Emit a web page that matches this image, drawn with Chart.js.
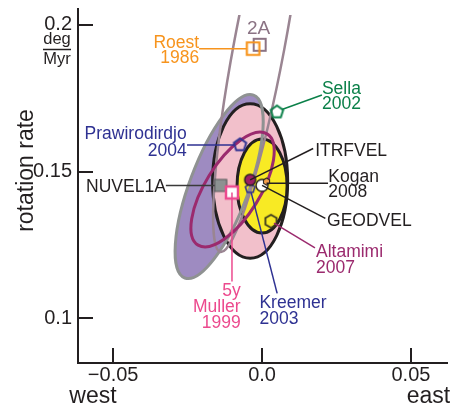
<!DOCTYPE html>
<html>
<head>
<meta charset="utf-8">
<script src="https://cdn.jsdelivr.net/npm/chart.js@4.4.1/dist/chart.umd.min.js"></script>
<style>
  html, body { margin: 0; padding: 0; background: #fff; }
  canvas { display: block; }
</style>
</head>
<body>
<canvas id="chart" width="457" height="413"></canvas>
<script>
const FONT = '"Liberation Sans", Arial, Helvetica, sans-serif';
const INK = '#231f20';

// Pole estimates: east-west offset and rotation rate (deg/Myr)
const models   = ['2A', 'Roest 1986', 'Sella 2002', 'Prawirodirdjo 2004', 'NUVEL1A',
                  'Muller 1999', 'Kreemer 2003', 'ITRFVEL', 'GEODVEL', 'Kogan 2008', 'Altamimi 2007'];
const eastWest = [-0.0008, -0.0030, 0.0050, -0.0074, -0.0139, -0.0101, -0.0040, -0.0040, 0.0000, 0.0015, 0.0030];
const rotation = [0.1932, 0.1919, 0.1703, 0.1591, 0.1453, 0.1429, 0.1443, 0.1472, 0.1453, 0.1466, 0.1331];

// Axis ticks
const xTicks = [-0.05, 0, 0.05];
const xTickLabels = ['\u22120.05', '0.0', '0.05'];
const yTicks = [0.1, 0.15, 0.2];
const yTickLabels = ['0.1', '0.15', '0.2'];

// Confidence ellipses: centre, semi-axes (deg/Myr) and tilt of the major axis (deg)
const ellipseKeys  = ['wide', 'outer', 'inner', 'twoA', 'altamimi'];
const ellipseX     = [-0.0144, -0.0040, 0.0000, -0.0009, -0.0099];
const ellipseY     = [0.1449, 0.1468, 0.1451, 0.1932, 0.1439];
const ellipseMajor = [0.0332, 0.0263, 0.0160, 0.0718, 0.0222];
const ellipseMinor = [0.0099, 0.0126, 0.0084, 0.0085, 0.0092];
const ellipseTilt  = [69.7, 90, 90, 79.5, 58.6];

const ellipseStyle = {
  wide:     { fill: '#9e8bc1' },
  outer:    { fill: '#f2c0cb', stroke: INK, width: 3 },
  inner:    { fill: '#f8ea24', stroke: INK, width: 3 },
};
// outlines laid over the filled ellipses
const outlineStyle = {
  wide:     { stroke: '#8f9292', width: 3 },
  twoA:     { stroke: '#9a8592', width: 2.5 },
  altamimi: { stroke: '#9b2a6e', width: 3 },
};

// Marker glyphs
function glyph(shape, size, stroke, fill, lw) {
  const pad = Math.ceil(lw) + 1;
  const dim = Math.round(size + 2 * pad);
  const c = document.createElement('canvas');
  c.width = c.height = dim;
  const g = c.getContext('2d');
  const m = dim / 2, r = size / 2;
  g.beginPath();
  if (shape === 'square') {
    g.rect(m - r, m - r, size, size);
  } else if (shape === 'circle') {
    g.arc(m, m, r, 0, Math.PI * 2);
  } else {
    const n = shape === 'pentagon' ? 5 : 6;
    for (let k = 0; k < n; k++) {
      const a = -Math.PI / 2 + k * 2 * Math.PI / n;
      const px = m + r * Math.cos(a), py = m + r * Math.sin(a);
      if (k) g.lineTo(px, py); else g.moveTo(px, py);
    }
    g.closePath();
  }
  if (fill) { g.fillStyle = fill; g.fill(); }
  g.lineWidth = lw;
  g.strokeStyle = stroke;
  g.stroke();
  return c;
}

const markers = {
  '2A':                 glyph('square', 12, '#8b7384', null, 2),
  'Roest 1986':         glyph('square', 12.5, '#f7941d', null, 2.2),
  'Sella 2002':         glyph('pentagon', 13, '#0b8049', null, 2),
  'Prawirodirdjo 2004': glyph('pentagon', 13, '#2e3192', null, 2),
  'NUVEL1A':            glyph('square', 12, '#58595b', '#8c9191', 1.2),
  'Muller 1999':        glyph('square', 12, '#ec4a8e', '#ffffff', 2.5),
  'Kreemer 2003':       glyph('pentagon', 10, '#2e3192', null, 1.6),
  'ITRFVEL':            glyph('circle', 11, INK, '#9b1f63', 1.4),
  'GEODVEL':            glyph('circle', 12, INK, '#ffffff', 1.4),
  'Kogan 2008':         glyph('hexagon', 7, INK, '#f6a04d', 1.1),
  'Altamimi 2007':      glyph('hexagon', 13, '#3b3a1e', null, 1.8),
};

// Labels and leader lines, offsets in px from each marker
const labels = {
  '2A':                 { lines: ['2A'], color: '#8b7384', align: 'center', dx: -1, dy: -10.5, size: 19 },
  'Roest 1986':         { lines: ['Roest', '1986'], color: '#f7941d', align: 'right', dx: -54, dy: -1, gap: 15, lead: [-6.5, 0, -54, 0] },
  'Sella 2002':         { lines: ['Sella', '2002'], color: '#0b8049', align: 'left', dx: 45, dy: -18.3, gap: 15.5, lead: [5, -2.5, 45, -17] },
  'Prawirodirdjo 2004': { lines: ['Prawirodirdjo', '2004'], color: '#2e3192', align: 'right', dx: -53.3, dy: -6.3, gap: 17.3, lead: [-6, 0, -53, 0] },
  'NUVEL1A':            { lines: ['NUVEL1A'], color: INK, leadColor: '#3a3a3a', align: 'right', dx: -54.8, dy: 6.7, lead: [-6, 0, -54.8, 0] },
  'Muller 1999':        { lines: ['5y', 'Muller', '1999'], color: '#ec4a8e', align: 'right', dx: 8.7, dy: 104, gap: 16, lead: [0, 0, 0, 89] },
  'Kreemer 2003':       { lines: ['Kreemer', '2003'], color: '#2e3192', align: 'left', dx: 9.3, dy: 119.7, gap: 16, lead: [1, 4, 27, 105] },
  'ITRFVEL':            { lines: ['ITRFVEL'], color: INK, align: 'left', dx: 65, dy: -24.3, lead: [0, 0, 63, -31.3] },
  'GEODVEL':            { lines: ['GEODVEL'], color: INK, align: 'left', dx: 65, dy: 41, lead: [0, 0, 63.3, 33] },
  'Kogan 2008':         { lines: ['Kogan', '2008'], color: INK, align: 'left', dx: 61.8, dy: 0.5, gap: 15, lead: [0, 1.7, 61.5, 1.7] },
  'Altamimi 2007':      { lines: ['Altamimi', '2007'], color: '#9b2a6e', align: 'left', dx: 45, dy: 36, gap: 15.7, lead: [3, 2, 44, 26.7] },
};

function ellipsePath(ctx, xs, ys, i) {
  const kx = Math.abs(xs.getPixelForValue(1) - xs.getPixelForValue(0));
  const ky = Math.abs(ys.getPixelForValue(1) - ys.getPixelForValue(0));
  ctx.save();
  ctx.translate(xs.getPixelForValue(ellipseX[i]), ys.getPixelForValue(ellipseY[i]));
  ctx.scale(kx, -ky);
  ctx.rotate(ellipseTilt[i] * Math.PI / 180);
  ctx.beginPath();
  ctx.ellipse(0, 0, ellipseMajor[i], ellipseMinor[i], 0, 0, Math.PI * 2);
  ctx.restore();
}

const ellipsePlugin = {
  id: 'ellipses',
  beforeDatasetsDraw(chart) {
    const { ctx, chartArea: a, scales: { x, y } } = chart;
    ctx.save();
    ctx.beginPath();
    ctx.rect(a.left, a.top + 6, a.right - a.left, a.bottom - a.top - 6);
    ctx.clip();
    ellipseKeys.forEach((key, i) => {
      const st = ellipseStyle[key];
      if (!st) return;
      ellipsePath(ctx, x, y, i);
      ctx.fillStyle = st.fill;
      ctx.fill();
      if (st.stroke) { ctx.lineWidth = st.width; ctx.strokeStyle = st.stroke; ctx.stroke(); }
    });
    ellipseKeys.forEach((key, i) => {
      const st = outlineStyle[key];
      if (!st) return;
      ellipsePath(ctx, x, y, i);
      ctx.lineWidth = st.width;
      ctx.strokeStyle = st.stroke;
      ctx.stroke();
    });
    ctx.restore();
  }
};

const annotatePlugin = {
  id: 'annotate',
  afterDatasetsDraw(chart) {
    const { ctx, scales: { x, y } } = chart;
    ctx.save();
    models.forEach((m, i) => {
      const L = labels[m];
      const px = x.getPixelForValue(eastWest[i]);
      const py = y.getPixelForValue(rotation[i]);
      if (L.lead) {
        ctx.beginPath();
        ctx.moveTo(px + L.lead[0], py + L.lead[1]);
        ctx.lineTo(px + L.lead[2], py + L.lead[3]);
        ctx.lineWidth = 1.5;
        ctx.strokeStyle = L.leadColor || L.color;
        ctx.stroke();
      }
      ctx.font = (L.size || 17.5) + 'px ' + FONT;
      ctx.fillStyle = L.color;
      ctx.textAlign = L.align;
      ctx.textBaseline = 'alphabetic';
      L.lines.forEach((t, k) => ctx.fillText(t, px + L.dx, py + L.dy + k * (L.gap || 16)));
    });
    ctx.restore();
  },
  afterDraw(chart) {
    const { ctx, chartArea: a, scales: { x, y } } = chart;
    ctx.save();
    // inward tick marks
    ctx.strokeStyle = INK;
    ctx.lineWidth = 2;
    xTicks.forEach(v => {
      const px = Math.round(x.getPixelForValue(v));
      ctx.beginPath(); ctx.moveTo(px, a.bottom); ctx.lineTo(px, a.bottom - 15); ctx.stroke();
    });
    yTicks.forEach(v => {
      const py = Math.round(y.getPixelForValue(v));
      ctx.beginPath(); ctx.moveTo(a.left, py); ctx.lineTo(a.left + 15, py); ctx.stroke();
    });
    // axis titles and units
    ctx.fillStyle = INK;
    ctx.textBaseline = 'alphabetic';
    ctx.textAlign = 'center';
    ctx.font = '23px ' + FONT;
    ctx.fillText('west', 93, 403);
    ctx.fillText('east', 428.5, 403);
    ctx.save();
    ctx.translate(33, 170.5);
    ctx.rotate(-Math.PI / 2);
    ctx.fillText('rotation rate', 0, 0);
    ctx.restore();
    ctx.font = '16.5px ' + FONT;
    ctx.fillText('deg', 57, 44);
    ctx.fillText('Myr', 57, 64);
    ctx.lineWidth = 1.5;
    ctx.beginPath(); ctx.moveTo(43, 49.5); ctx.lineTo(71, 49.5); ctx.stroke();
    ctx.restore();
  }
};

function noEdgePadding(s) {
  s.paddingTop = 0; s.paddingBottom = 0; s.paddingLeft = 0; s.paddingRight = 0;
}

new Chart(document.getElementById('chart'), {
  type: 'scatter',
  data: {
    datasets: [{
      data: models.map((m, i) => ({ x: eastWest[i], y: rotation[i] })),
      pointStyle: models.map(m => markers[m]),
      pointRadius: 8,
      pointHoverRadius: 8,
      showLine: false,
      clip: false
    }]
  },
  options: {
    responsive: false,
    animation: false,
    devicePixelRatio: 1,
    events: [],
    layout: { padding: { left: 0, right: 10, top: 6, bottom: 0 } },
    plugins: { legend: { display: false }, tooltip: { enabled: false } },
    scales: {
      x: {
        type: 'linear',
        min: -0.0618,
        max: 0.0621,
        grid: { display: false, drawTicks: false },
        border: { display: true, color: INK, width: 2 },
        afterBuildTicks: s => { s.ticks = xTicks.map(v => ({ value: v })); },
        afterFit: s => { s.height = 50; noEdgePadding(s); },
        ticks: {
          autoSkip: false, maxRotation: 0, padding: 0,
          color: INK, font: { family: FONT, size: 20 },
          callback: (v, i) => xTickLabels[i]
        }
      },
      y: {
        type: 'linear',
        min: 0.0848,
        max: 0.2054,
        grid: { display: false, drawTicks: false },
        border: { display: true, color: INK, width: 2 },
        afterBuildTicks: s => { s.ticks = yTicks.map(v => ({ value: v })); },
        afterFit: s => { s.width = 78; noEdgePadding(s); },
        ticks: {
          autoSkip: false, padding: 6,
          color: INK, font: { family: FONT, size: 20 },
          callback: (v, i) => yTickLabels[i]
        }
      }
    }
  },
  plugins: [ellipsePlugin, annotatePlugin]
});
</script>
</body>
</html>
